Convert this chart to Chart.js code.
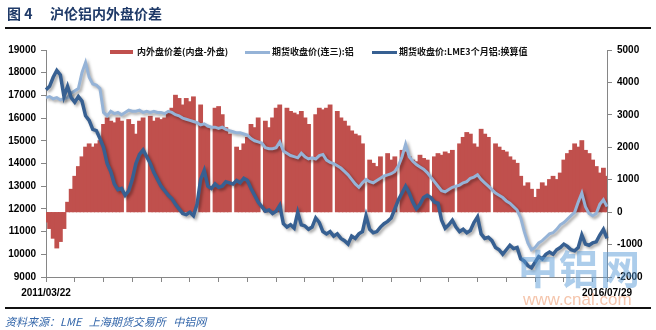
<!DOCTYPE html>
<html><head><meta charset="utf-8">
<script src="https://cdn.jsdelivr.net/npm/chart.js@4"></script>
<style>
html,body{margin:0;padding:0;background:#fff;}
#wrap{position:relative;width:656px;height:330px;overflow:hidden;background:#fff;font-family:"Noto Sans CJK SC","Liberation Sans",sans-serif;}
#c{position:absolute;left:0;top:0;}
.abs{position:absolute;white-space:nowrap;}
.title{top:3px;font-weight:bold;font-size:14px;line-height:20px;color:#1f3a68;}
.rule{position:absolute;left:5px;width:646px;height:2px;background:#111;}
.lg{font-size:9px;font-weight:bold;color:#111;line-height:12px;top:46px;}
.sw{position:absolute;}
.src{left:5px;top:313px;font-size:11px;line-height:16px;font-style:italic;color:#3366aa;}
.wm1{left:518px;top:244px;font-size:40px;line-height:46px;font-weight:bold;color:rgba(90,155,215,0.5);letter-spacing:1px;}
.wm2{left:523px;top:290px;font-size:17px;line-height:20px;color:rgba(235,140,90,0.5);font-family:"Liberation Sans",sans-serif;}
</style></head>
<body>
<div id="wrap">
  <canvas id="c" width="656" height="330"></canvas>
  <div class="abs title" style="left:7px">图 4</div>
  <div class="abs title" style="left:50px">沪伦铝内外盘价差</div>
  <div class="rule" style="top:27px"></div>
  <div class="sw" id="sw0" style="left:110px;top:50px;width:23px;height:4px;"></div>
  <div class="abs lg" id="lg0" style="left:137px"></div>
  <div class="sw" id="sw1" style="left:245px;top:51px;width:25px;height:2.5px;"></div>
  <div class="abs lg" id="lg1" style="left:272px"></div>
  <div class="sw" id="sw2" style="left:372px;top:51px;width:25px;height:3px;"></div>
  <div class="abs lg" id="lg2" style="left:399px"></div>
  <div class="rule" style="top:307px"></div>
  <div class="abs src">资料来源：LME&nbsp;&nbsp;&nbsp;上海期货交易所&nbsp;&nbsp;&nbsp;中铝网</div>
  <div class="abs wm1">中铝网</div>
  <div class="abs wm2">www.cnal.com</div>
</div>
<script>
// ---- data ----
const tickLabels = ['2011/03/22', '2016/07/29'];
const seriesNames = ['内外盘价差(内盘-外盘)', '期货收盘价(连三):铝', '期货收盘价:LME3个月铝:换算值'];

// 沪伦铝内外盘价差 (right axis, yuan/t)
const spread = [
  -300,-500,-800,-1100,-900,-500,300,700,1100,1400,
  1700,2000,2100,2000,2100,2200,2700,2900,2800,2750,
  2900,2800,null,2850,2700,2400,2800,2900,null,2950,
  2800,2900,2850,2900,3050,3200,3600,3500,3300,3500,
  3400,3550,null,3300,2700,2600,null,3200,3250,3000,
  2600,2400,null,2000,1900,2100,2300,2700,2600,2900,
  null,2800,2600,2900,3200,3300,null,3200,3100,3050,
  3000,3100,2900,2700,null,3000,3200,3150,3200,3300,
  null,3100,2900,2800,2650,2500,2400,2350,2100,null,
  1600,1500,1400,1700,null,1800,1600,1700,null,1900,
  1850,1700,1600,1550,1750,1650,1600,null,1700,1800,
  1750,1850,1800,1900,null,2100,2300,2450,2400,2100,
  2000,2550,2400,2300,null,2100,2000,1900,1850,1700,
  1600,1500,1100,800,900,700,450,700,900,800,
  1000,1100,1000,1200,1600,1800,1900,2100,2000,2200,
  1900,1800,1600,1400,1200,1350,1100
];

// SHFE 期货收盘价(连三):铝 (left axis)
const shfe = [
  16900,16950,16850,16900,16800,16850,16900,17100,17200,17300,
  18000,18450,17800,17500,17450,17300,16250,16100,16300,16200,
  16250,16150,16250,16350,16300,16300,16350,16250,16300,16250,
  16300,16250,16250,16200,16300,16250,16150,16100,16000,15950,
  15900,15850,15800,15700,15750,15650,15600,15600,15550,15600,
  15500,15450,15400,15350,15350,15300,15250,15100,15000,14950,
  14900,14700,14650,14650,14700,14950,14550,14450,14350,14300,
  14250,14450,14300,14200,14250,14200,14350,14400,14150,14050,
  14000,13900,13800,13650,13500,13300,13100,12950,13150,13300,
  13200,13150,13250,13350,13450,13500,13550,13650,13900,14300,
  14850,14300,14100,13950,13850,13750,13600,13400,13200,13000,
  12800,12750,12850,12950,13000,13050,13150,13200,13350,13400,
  13500,13300,13150,13000,12850,12700,12600,12500,12350,12250,
  12100,11950,11600,11000,10500,10200,10300,10500,10600,10750,
  10900,10950,11100,11300,11400,11550,11700,11850,12300,12700,
  12100,11800,11700,11800,12200,12400,12100
];

// LME 3个月铝 换算值 (left axis)
const lme = [
  17250,17400,17800,18100,17900,16950,17400,16900,16700,16950,
  16750,16100,15900,15500,15450,15100,14700,14000,13650,13100,
  12850,12900,12600,12800,13300,14000,14400,14600,14300,14000,
  13600,13300,13000,12800,12600,12450,12200,12000,11800,11750,
  11850,11700,12200,13300,13700,13000,12900,13100,12950,13000,
  13200,13150,13100,13250,13150,13350,13250,12900,12600,12300,
  12100,11900,11950,11800,11900,12150,11350,11200,11300,11150,
  11850,11300,11250,11100,11200,11600,11400,11000,10900,11000,
  10800,10900,10700,10600,10450,10800,10700,10900,11000,11700,
  11100,10950,11000,11200,11350,11450,11600,12000,12400,12700,
  13000,12700,12300,12000,12200,12500,12600,12500,12300,12250,
  11500,11150,11300,11500,11200,11000,11100,10950,11050,11400,
  11650,10900,10700,10750,10600,10300,10200,10000,10200,10400,
  10250,10300,9800,9700,9500,9400,9650,9900,9800,10000,
  10100,10000,10200,10300,10450,10350,10200,10150,10300,10850,
  10450,10400,10500,10550,10850,11100,10700
];

// categories: dates across the period (only first/last are labelled)
const N = shfe.length;
const t0 = Date.UTC(2011,2,22), t1 = Date.UTC(2016,6,29);
const pad = n => String(n).padStart(2,'0');
const categories = [];
for (let i = 0; i < N; i++) {
  const d = new Date(t0 + (t1 - t0) * i / (N - 1));
  categories.push(d.getUTCFullYear() + '/' + pad(d.getUTCMonth()+1) + '/' + pad(d.getUTCDate()));
}

// ---- styles ----
const RED = '#C0504D', LIGHT = '#95B3D7', DARK = '#376092', AXIS = '#868686';
const TICK_EVERY = 8;

document.getElementById('sw0').style.background = RED;
document.getElementById('sw1').style.background = LIGHT;
document.getElementById('sw2').style.background = DARK;
seriesNames.forEach((n,i)=>{ document.getElementById('lg'+i).textContent = n; });

const shadowPlugin = {
  id: 'shadow',
  beforeDatasetDraw(chart, args) {
    const ctx = chart.ctx;
    ctx.save();
    if (args.meta.type === 'line') {
      ctx.shadowColor = 'rgba(0,0,0,0.35)';
      ctx.shadowBlur = 3;
      ctx.shadowOffsetX = 2;
      ctx.shadowOffsetY = 2;
    }
  },
  afterDatasetDraw(chart) { chart.ctx.restore(); }
};

const tickFont = { family: '"Liberation Sans", Arial, sans-serif', size: 10, weight: 'bold' };
const xTickColor = ctx => (ctx.index % TICK_EVERY === 0 || ctx.index === N - 1) ? AXIS : 'rgba(0,0,0,0)';
const plain = v => String(v);

new Chart(document.getElementById('c'), {
  type: 'bar',
  data: {
    labels: categories,
    datasets: [
      { type: 'line', label: seriesNames[2], data: lme, yAxisID: 'y', borderColor: DARK, borderWidth: 3.5,
        pointRadius: 0, tension: 0, order: 0 },
      { type: 'line', label: seriesNames[1], data: shfe, yAxisID: 'y', borderColor: LIGHT, borderWidth: 3,
        pointRadius: 0, tension: 0, order: 1 },
      { type: 'bar', label: seriesNames[0], data: spread, yAxisID: 'y2', backgroundColor: RED,
        borderWidth: 0, borderSkipped: false, inflateAmount: 0.6,
        barPercentage: 1, categoryPercentage: 1, order: 2 }
    ]
  },
  options: {
    responsive: false,
    animation: false,
    layout: { padding: { left: 0, right: 0, top: 50, bottom: 25 } },
    plugins: { legend: { display: false }, tooltip: { enabled: false }, title: { display: false } },
    scales: {
      x: {
        type: 'category', offset: false,
        grid: { display: true, drawOnChartArea: false, offset: false, tickLength: 5, color: xTickColor, tickColor: xTickColor },
        border: { display: true, color: AXIS, width: 1 },
        ticks: { autoSkip: false, maxRotation: 0, minRotation: 0, padding: 5, color: '#000', font: tickFont,
          callback: (v, i) => i === 0 ? tickLabels[0] : (i === N - 1 ? tickLabels[1] : '') },
        afterFit: s => { s.height = 28; }
      },
      y: {
        position: 'left', min: 9000, max: 19000,
        grid: { display: true, drawOnChartArea: false, tickLength: 5, color: AXIS },
        border: { display: true, color: AXIS, width: 1 },
        ticks: { stepSize: 1000, padding: 5, color: '#000', font: tickFont, callback: plain },
        afterFit: s => { s.width = 46; }
      },
      y2: {
        position: 'right', min: -2000, max: 5000,
        grid: { display: true, drawOnChartArea: false, tickLength: 5, color: AXIS },
        border: { display: true, color: AXIS, width: 1 },
        ticks: { stepSize: 1000, padding: 5, color: '#000', font: tickFont, callback: plain },
        afterFit: s => { s.width = 49; }
      }
    }
  },
  plugins: [shadowPlugin]
});
</script>
</body></html>
